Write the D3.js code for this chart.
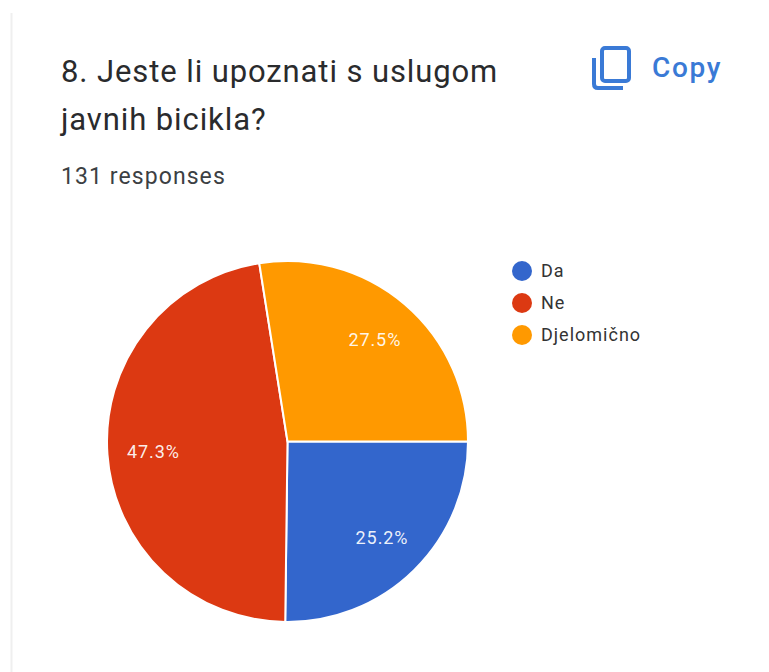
<!DOCTYPE html>
<html><head><meta charset="utf-8">
<script src="https://cdn.jsdelivr.net/npm/d3@7/dist/d3.min.js"></script>
<style>html,body{margin:0;padding:0;background:#fff;}svg{display:block;}</style>
</head><body><div id="c"></div>
<script>
const categories = ["Da","Ne","Djelomično"];
const values = [25.2,47.3,27.5];
const labels = ["25.2%","47.3%","27.5%"];
const colors = ["#3366cc","#dc3912","#ff9900"];
const title = ["8. Jeste li upoznati s uslugom","javnih bicikla?"];
const W=769,H=672;
const svg=d3.select("#c").append("svg").attr("width",W).attr("height",H).style("font-family","Roboto, sans-serif");
svg.append("rect").attr("width",W).attr("height",H).attr("fill","#fff");
svg.append("path").attr("d","M11.5 672V13").attr("fill","none").attr("stroke","#efefef").attr("stroke-width",2);
svg.selectAll("text.t").data(title).join("text").attr("class","t").attr("x",61).attr("y",(d,i)=>82+i*48)
 .attr("font-size",31).attr("letter-spacing",0.9).attr("fill","#2a2b2d").text(d=>d);
svg.append("text").attr("x",61).attr("y",184).attr("font-size",23).attr("letter-spacing",1.08).attr("fill","#3c4043").text("131 responses");
// copy icon
const blue="#3a7ad6";
const ic=svg.append("g").attr("fill","none").attr("stroke",blue).attr("stroke-width",4);
ic.append("rect").attr("x",602).attr("y",48).attr("width",27).attr("height",33).attr("rx",3);
ic.append("path").attr("d","M594 58V84Q594 88 598 88H623");
svg.append("text").attr("x",652).attr("y",77).attr("font-size",28).attr("font-weight",500).attr("letter-spacing",1.7).attr("fill",blue).text("Copy");
// pie
const cx=287.5,cy=441.5,r=180.5;
const pie=d3.pie().value(d=>d).sort(null).startAngle(Math.PI/2).endAngle(Math.PI*2.5);
const arcs=pie(values);
const arc=d3.arc().innerRadius(0).outerRadius(r);
const g=svg.append("g").attr("transform",`translate(${cx},${cy})`);
g.selectAll("path").data(arcs).join("path").attr("d",arc).attr("fill",(d,i)=>colors[i]).attr("stroke","#fff").attr("stroke-width",2);
const la=d3.arc().innerRadius(r*0.745).outerRadius(r*0.745);
g.selectAll("text").data(arcs).join("text").attr("transform",d=>`translate(${la.centroid(d)})`)
 .attr("text-anchor","middle").attr("dy","0.36em").attr("font-size",18).attr("letter-spacing",0.9).attr("fill","#fff").attr("fill-opacity",0.92).text((d,i)=>labels[i]);
// legend
const lg=svg.append("g");
const ly=d3.scalePoint().domain(categories).range([271,335]);
lg.selectAll("circle").data(categories).join("circle").attr("cx",522).attr("cy",d=>ly(d)).attr("r",10).attr("fill",(d,i)=>colors[i]);
lg.selectAll("text").data(categories).join("text").attr("x",541).attr("y",d=>ly(d)).attr("dy","0.36em").attr("font-size",18).attr("letter-spacing",1).attr("fill","#333").text(d=>d);
</script></body></html>
